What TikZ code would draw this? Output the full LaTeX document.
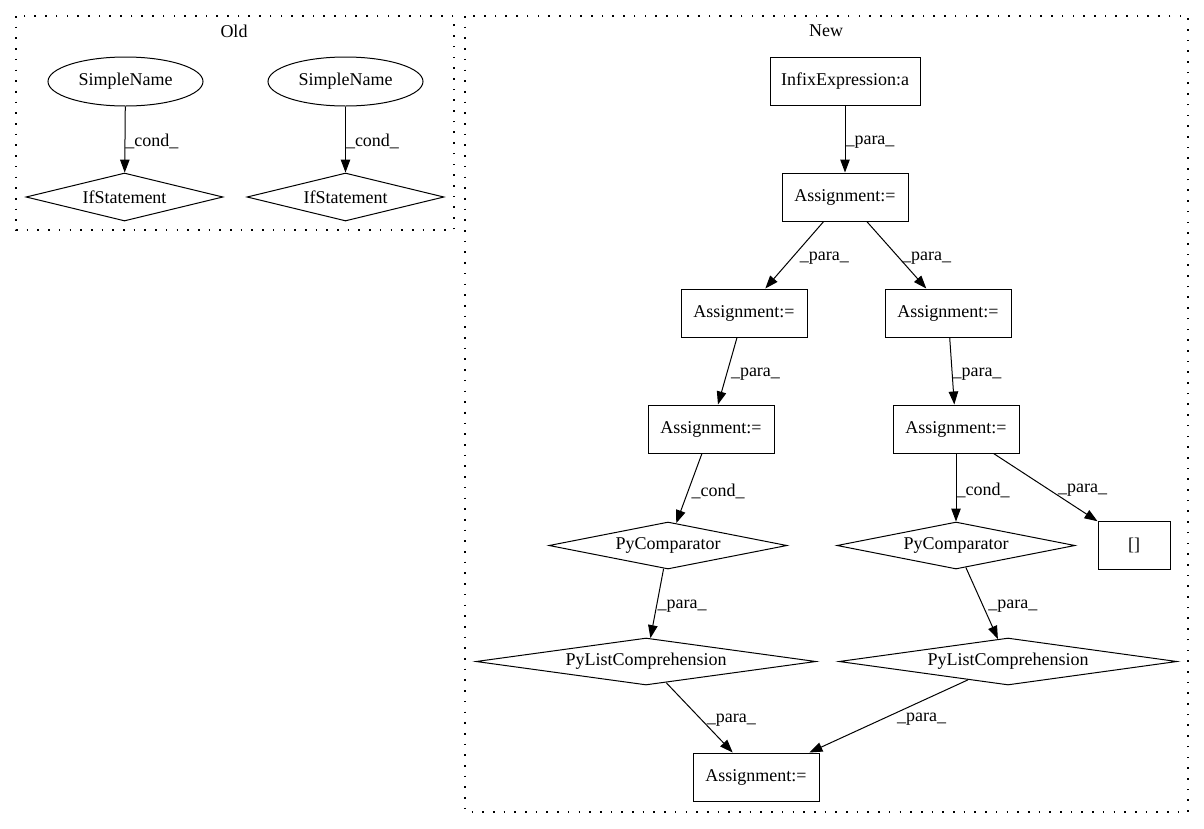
\documentclass[tikz,border=0pt]{standalone}
\usepackage{fontspec}
\setmainfont{Liberation Serif}
\usetikzlibrary{shapes.geometric,arrows.meta}
\begin{document}
\begin{tikzpicture}[x=1pt,y=-1pt,
  every node/.style={font=\fontsize{18}{22}\selectfont, inner sep=0pt, line width=1pt},
  box/.style={draw, rectangle, minimum height=48pt},
  ell/.style={draw, ellipse, minimum width=155pt, minimum height=49pt},
  dia/.style={draw, diamond, minimum height=47pt},
  cluster/.style={draw, line width=1.3pt, dash pattern=on 1.6pt off 9.1pt},
  conn/.style={line width=1pt, -{Triangle[length=13pt,width=9.5pt]}},
  lbl/.style={pos=0.5, anchor=west, yshift=-3pt}
]
\useasboundingbox (0,0) rectangle (1204,828);
% clusters
\draw[cluster] (16,16) rectangle (454,230);
\draw[cluster] (465,16) rectangle (1188,812);
\node (oldlbl) at (234,31) {Old};
\node (newlbl) at (826,31) {New};
% old nodes
\node[ell] (sn1) at (125.5,81.5) {SimpleName};
\node[dia, aspect=4, minimum width=197pt, minimum height=48pt] (if1) at (124.5,197) {IfStatement};
\node[ell] (sn2) at (345.5,81.5) {SimpleName};
\node[dia, aspect=4, minimum width=197pt, minimum height=48pt] (if2) at (345.5,197) {IfStatement};
% new nodes
\node[box, minimum width=150pt] (infix) at (845,81) {InfixExpression:a};
\node[box, minimum width=126pt] (a1) at (845,197) {Assignment:=};
\node[box, minimum width=126pt] (a2) at (744,313) {Assignment:=};
\node[box, minimum width=126pt] (a3) at (948,313) {Assignment:=};
\node[box, minimum width=126pt] (a4) at (711,429) {Assignment:=};
\node[box, minimum width=126pt] (a5) at (956,429) {Assignment:=};
\node[dia, aspect=5, minimum width=238pt] (pc1) at (668,545.5) {PyComparator};
\node[dia, aspect=5, minimum width=238pt] (pc2) at (956,545.5) {PyComparator};
\node[box, minimum width=72pt] (br) at (1134,545) {[]};
\node[dia, aspect=7, minimum width=340pt] (pl1) at (646,661.5) {PyListComprehension};
\node[dia, aspect=7, minimum width=338pt] (pl2) at (1008,661.5) {PyListComprehension};
\node[box, minimum width=126pt] (a6) at (756,777) {Assignment:=};
% edges
\draw[conn] (sn1) -- (if1) node[lbl, yshift=1pt] (l1) {\_cond\_};
\draw[conn] (sn2) -- (if2) node[lbl, yshift=1pt] (l2) {\_cond\_};
\draw[conn] (infix) -- (a1) node[lbl] (l3) {\_para\_};
\draw[conn] (a1) -- (a2) node[lbl, xshift=5pt] (l4) {\_para\_};
\draw[conn] (a1) -- (a3) node[lbl, xshift=5pt] (l5) {\_para\_};
\draw[conn] (a2) -- (a4) node[lbl, xshift=3pt] (l6) {\_para\_};
\draw[conn] (a3) -- (a5) node[lbl] (l7) {\_para\_};
\draw[conn] (a4) -- (pc1) node[lbl, xshift=2pt] (l8) {\_cond\_};
\draw[conn] (a5) -- (pc2) node[lbl] (l9) {\_cond\_};
\draw[conn] (a5) -- (br) node[lbl, xshift=12pt] (l10) {\_para\_};
\draw[conn] (pc1) -- (pl1) node[lbl] (l11) {\_para\_};
\draw[conn] (pc2) -- (pl2) node[lbl, xshift=6pt] (l12) {\_para\_};
\draw[conn] (pl1) -- (a6) node[lbl, xshift=7pt] (l13) {\_para\_};
\draw[conn] (pl2) -- (a6) node[lbl, xshift=8pt] (l14) {\_para\_};
\end{tikzpicture}
\end{document}
